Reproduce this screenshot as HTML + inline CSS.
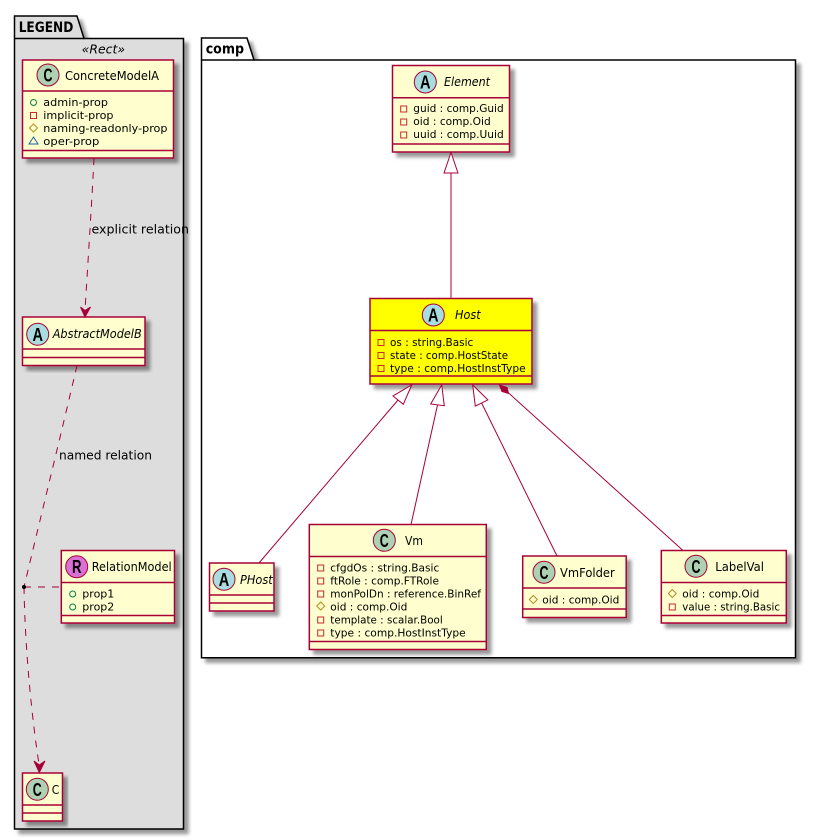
<!DOCTYPE html>
<html><head><meta charset="utf-8"><style>
html,body{margin:0;padding:0;background:#fff;width:816px;height:840px;overflow:hidden}
svg{display:block}
text{font-family:"DejaVu Sans","Liberation Sans",sans-serif;fill:#000}
.a{font-size:11px}
.t{font-size:12.5px}
.i{font-style:italic}
.g{font-size:18px;font-weight:bold;text-anchor:middle;font-family:"Liberation Sans",sans-serif}
.box{fill:#FEFECE;stroke:#A80036;stroke-width:1.5;filter:url(#s)}
.sep{stroke:#A80036;stroke-width:1.5}
.c{stroke:#A80036;stroke-width:1;fill:#ADD1B2}
.ab{stroke:#A80036;stroke-width:1;fill:#A9DCDF}
.l{stroke:#A80036;stroke-width:1;fill:none}
.d{stroke-dasharray:7,7}
.tri{stroke:#A80036;stroke-width:1;fill:#fff}
.sq{fill:none;stroke:#C82930;stroke-width:1}
.ci{fill:none;stroke:#038048;stroke-width:1}
.di{fill:none;stroke:#B38D22;stroke-width:1}
.tr{fill:none;stroke:#1963A0;stroke-width:1}
</style></head><body>
<svg width="816" height="840" viewBox="0 0 816 840" xmlns="http://www.w3.org/2000/svg">
<defs><filter id="s" x="-10%" y="-10%" width="125%" height="125%"><feDropShadow dx="4.5" dy="4.5" stdDeviation="1.8" flood-color="#000" flood-opacity="0.4"/></filter></defs>

<!-- LEGEND package -->
<path d="M14.5 16H77L84 38.5H183.5V829H14.5Z" fill="#DDDDDD" stroke="#000" stroke-width="1.5" filter="url(#s)"/>
<path d="M14.5 38.5H84" stroke="#000" stroke-width="1.5" fill="none"/>
<text x="18.7" y="32" font-size="14" font-weight="bold" textLength="54.6" lengthAdjust="spacingAndGlyphs">LEGEND</text>
<text x="81.7" y="53.5" font-size="12" class="i" textLength="43.3" lengthAdjust="spacingAndGlyphs">«Rect»</text>

<!-- comp package -->
<path d="M201.5 38H247L254 60H795.5V657.7H201.5Z" fill="#fff" stroke="#000" stroke-width="1.5" filter="url(#s)"/>
<path d="M201.5 60H254" stroke="#000" stroke-width="1.5" fill="none"/>
<text x="205.7" y="53.5" font-size="14" font-weight="bold" textLength="38.3" lengthAdjust="spacingAndGlyphs">comp</text>

<!-- ConcreteModelA -->
<rect class="box" x="22.5" y="60" width="151" height="98"/>
<path class="sep" d="M22.5 91H173.5M22.5 150.5H173.5"/>
<circle class="c" cx="48" cy="75" r="11"/><text class="g" x="48" y="81.5" textLength="9" lengthAdjust="spacingAndGlyphs">C</text>
<text class="t" x="65" y="80" textLength="94" lengthAdjust="spacingAndGlyphs">ConcreteModelA</text>
<circle class="ci" cx="33.5" cy="102.5" r="3"/>
<text class="a" x="43.3" y="106" textLength="64.7" lengthAdjust="spacingAndGlyphs">admin-prop</text>
<rect class="sq" x="30.5" y="112.5" width="6" height="6"/>
<text class="a" x="43.3" y="119" textLength="70.2" lengthAdjust="spacingAndGlyphs">implicit-prop</text>
<path class="di" d="M33.5 124L37.5 128L33.5 132L29.5 128Z"/>
<text class="a" x="43.3" y="132" textLength="124.2" lengthAdjust="spacingAndGlyphs">naming-readonly-prop</text>
<path class="tr" d="M33.5 137L38 144H29Z"/>
<text class="a" x="43.3" y="145" textLength="56" lengthAdjust="spacingAndGlyphs">oper-prop</text>

<!-- AbstractModelB -->
<rect class="box" x="22.5" y="317" width="122.5" height="48.5"/>
<path class="sep" d="M22.5 349H145M22.5 357.5H145"/>
<circle class="ab" cx="37.7" cy="334.3" r="11"/><text class="g" x="37.7" y="340.8" textLength="10.5" lengthAdjust="spacingAndGlyphs">A</text>
<text class="t i" x="52.7" y="338" textLength="89" lengthAdjust="spacingAndGlyphs">AbstractModelB</text>

<!-- RelationModel -->
<rect class="box" x="61.3" y="550.5" width="113.2" height="72.5"/>
<path class="sep" d="M61.3 582.5H174.5M61.3 615.5H174.5"/>
<circle cx="76.7" cy="566.7" r="11" stroke="#A80036" fill="#DA70D6"/><text class="g" x="76.7" y="573.2" textLength="9.5" lengthAdjust="spacingAndGlyphs">R</text>
<text class="t" x="91.7" y="571" textLength="80" lengthAdjust="spacingAndGlyphs">RelationModel</text>
<circle class="ci" cx="72.7" cy="594" r="3"/>
<text class="a" x="82.3" y="597.5" textLength="32" lengthAdjust="spacingAndGlyphs">prop1</text>
<circle class="ci" cx="72.7" cy="607" r="3"/>
<text class="a" x="82.3" y="610.5" textLength="32" lengthAdjust="spacingAndGlyphs">prop2</text>

<!-- C -->
<rect class="box" x="22.5" y="773" width="40" height="48"/>
<path class="sep" d="M22.5 805H62.5M22.5 813H62.5"/>
<circle class="c" cx="37.3" cy="789.3" r="11"/><text class="g" x="37.3" y="795.8" textLength="9" lengthAdjust="spacingAndGlyphs">C</text>
<text class="t" x="51.7" y="794" textLength="7.5" lengthAdjust="spacingAndGlyphs">C</text>

<!-- legend connectors -->
<path class="l d" d="M94 158C92 200 88 260 85 311"/>
<path d="M85 317L80.5 307L85 310.5L90.5 307Z" fill="#A80036" stroke="#A80036"/>
<text x="91.5" y="233.5" font-size="12.5" textLength="97.5" lengthAdjust="spacingAndGlyphs">explicit relation</text>
<path class="l d" d="M77 365.5C62 430 40 520 24 587"/>
<text x="59" y="459.5" font-size="12.5" textLength="93" lengthAdjust="spacingAndGlyphs">named relation</text>
<path class="l d" d="M24 587C25 650 32 720 39.3 766"/>
<path d="M39.3 772.5L34 761L39.3 765L45 761Z" fill="#A80036" stroke="#A80036"/>
<path class="l d" d="M24 587H61"/>
<circle cx="24" cy="587" r="2" fill="#000"/>

<!-- Element -->
<rect class="box" x="392.5" y="65.5" width="117" height="86.5"/>
<path class="sep" d="M392.5 97.7H509.5M392.5 144H509.5"/>
<circle class="ab" cx="425.3" cy="82" r="11"/><text class="g" x="425.3" y="88.5" textLength="10.5" lengthAdjust="spacingAndGlyphs">A</text>
<text class="t i" x="444" y="86" textLength="46" lengthAdjust="spacingAndGlyphs">Element</text>
<rect class="sq" x="400.7" y="106" width="6" height="6"/>
<text class="a" x="413.3" y="112" textLength="90.4" lengthAdjust="spacingAndGlyphs">guid : comp.Guid</text>
<rect class="sq" x="400.7" y="119" width="6" height="6"/>
<text class="a" x="413.3" y="125" textLength="77.4" lengthAdjust="spacingAndGlyphs">oid : comp.Oid</text>
<rect class="sq" x="400.7" y="132" width="6" height="6"/>
<text class="a" x="413.3" y="138" textLength="90.4" lengthAdjust="spacingAndGlyphs">uuid : comp.Uuid</text>

<!-- Host -->
<rect x="370" y="298.5" width="162" height="85.5" fill="#FFFF00" stroke="#A80036" stroke-width="1.5" filter="url(#s)"/>
<path class="sep" d="M370 330.5H532M370 376H532"/>
<circle class="ab" cx="433.3" cy="315" r="11"/><text class="g" x="433.3" y="321.5" textLength="10.5" lengthAdjust="spacingAndGlyphs">A</text>
<text class="t i" x="455" y="319" textLength="25.7" lengthAdjust="spacingAndGlyphs">Host</text>
<rect class="sq" x="378" y="339.5" width="6" height="6"/>
<text class="a" x="390" y="346" textLength="83.3" lengthAdjust="spacingAndGlyphs">os : string.Basic</text>
<rect class="sq" x="378" y="352.5" width="6" height="6"/>
<text class="a" x="390" y="359" textLength="118" lengthAdjust="spacingAndGlyphs">state : comp.HostState</text>
<rect class="sq" x="378" y="365.5" width="6" height="6"/>
<text class="a" x="390" y="372" textLength="135.7" lengthAdjust="spacingAndGlyphs">type : comp.HostInstType</text>

<!-- PHost -->
<rect class="box" x="209.5" y="563" width="64.5" height="48"/>
<path class="sep" d="M209.5 595H274M209.5 603H274"/>
<circle class="ab" cx="224" cy="579.3" r="11"/><text class="g" x="224" y="585.8" textLength="10.5" lengthAdjust="spacingAndGlyphs">A</text>
<text class="t i" x="240" y="584" textLength="32.7" lengthAdjust="spacingAndGlyphs">PHost</text>

<!-- Vm -->
<rect class="box" x="309.3" y="524.5" width="177" height="125"/>
<path class="sep" d="M309.3 556.5H486.3M309.3 641.5H486.3"/>
<circle class="c" cx="384.3" cy="540.3" r="11"/><text class="g" x="384.3" y="546.8" textLength="9" lengthAdjust="spacingAndGlyphs">C</text>
<text class="t" x="405" y="545" textLength="18" lengthAdjust="spacingAndGlyphs">Vm</text>
<rect class="sq" x="317.7" y="565" width="6" height="6"/>
<text class="a" x="330.3" y="571.5" textLength="109" lengthAdjust="spacingAndGlyphs">cfgdOs : string.Basic</text>
<rect class="sq" x="317.7" y="578" width="6" height="6"/>
<text class="a" x="330.3" y="584.5" textLength="108.7" lengthAdjust="spacingAndGlyphs">ftRole : comp.FTRole</text>
<rect class="sq" x="317.7" y="591" width="6" height="6"/>
<text class="a" x="330.3" y="597.5" textLength="150.7" lengthAdjust="spacingAndGlyphs">monPolDn : reference.BinRef</text>
<path class="di" d="M320.7 602L324.7 606L320.7 610L316.7 606Z"/>
<text class="a" x="330.3" y="610.5" textLength="77" lengthAdjust="spacingAndGlyphs">oid : comp.Oid</text>
<rect class="sq" x="317.7" y="617" width="6" height="6"/>
<text class="a" x="330.3" y="623.5" textLength="112.4" lengthAdjust="spacingAndGlyphs">template : scalar.Bool</text>
<rect class="sq" x="317.7" y="630" width="6" height="6"/>
<text class="a" x="330.3" y="636.5" textLength="135.4" lengthAdjust="spacingAndGlyphs">type : comp.HostInstType</text>

<!-- VmFolder -->
<rect class="box" x="522.7" y="556" width="103.5" height="61.5"/>
<path class="sep" d="M522.7 588H626.2M522.7 609H626.2"/>
<circle class="c" cx="544" cy="572.3" r="11"/><text class="g" x="544" y="578.8" textLength="9" lengthAdjust="spacingAndGlyphs">C</text>
<text class="t" x="560" y="577" textLength="54.7" lengthAdjust="spacingAndGlyphs">VmFolder</text>
<path class="di" d="M533.3 595.5L537.3 599.5L533.3 603.5L529.3 599.5Z"/>
<text class="a" x="542.3" y="603.5" textLength="77" lengthAdjust="spacingAndGlyphs">oid : comp.Oid</text>

<!-- LabelVal -->
<rect class="box" x="661.3" y="550.5" width="125" height="72.5"/>
<path class="sep" d="M661.3 582.5H786.3M661.3 615.5H786.3"/>
<circle class="c" cx="696" cy="566.3" r="11"/><text class="g" x="696" y="572.8" textLength="9" lengthAdjust="spacingAndGlyphs">C</text>
<text class="t" x="715.3" y="571" textLength="48.7" lengthAdjust="spacingAndGlyphs">LabelVal</text>
<path class="di" d="M672.3 589.5L676.3 593.5L672.3 597.5L668.3 593.5Z"/>
<text class="a" x="682.3" y="597.5" textLength="77" lengthAdjust="spacingAndGlyphs">oid : comp.Oid</text>
<rect class="sq" x="669.3" y="604" width="6" height="6"/>
<text class="a" x="682.3" y="610.5" textLength="97.7" lengthAdjust="spacingAndGlyphs">value : string.Basic</text>

<!-- comp connectors -->
<path class="l" d="M451 173V298.5"/>
<path class="tri" d="M451 152.5L458 173H444Z"/>
<path class="l" d="M398 400L259 563"/>
<path class="tri" d="M411.7 385L403.3 404.3L393 396Z"/>
<path class="l" d="M437.5 405L411 524.5"/>
<path class="tri" d="M441.7 385L444.3 405.7L430.7 404Z"/>
<path class="l" d="M481.6 403L557 556"/>
<path class="tri" d="M472.7 385L487.9 399.9L475.3 406.1Z"/>
<path class="l" d="M508 392.5L683 550.5"/>
<path d="M499.5 385L507 387.5L508.5 393.5L502 391.5Z" fill="#A80036" stroke="#A80036"/>
</svg>
</body></html>
